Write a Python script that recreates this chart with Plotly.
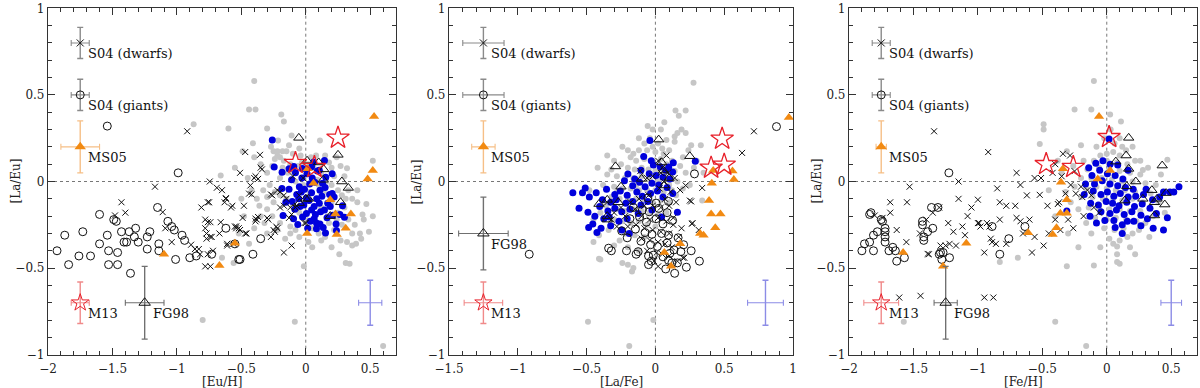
import plotly.graph_objects as go

# ---------------- data: [La/Eu] against [Eu/H] (left panel) ----------------
gray_eu = [(-0.40,0.58),(-0.44,0.415),(-0.39,0.415),(-0.19,0.387),(-0.17,0.346),(-0.60,0.306),(-0.30,0.306),
    (-0.87,0.33),(-0.41,0.221),(-0.215,0.237),(-0.11,0.265),(0.11,0.237),(-0.49,0.175),(0.32,0.077),(-0.66,0.035),
    (0.36,-0.10),(0.40,-0.12),(0.44,-0.19),(0.49,-0.29),(0.42,-0.30),(0.39,-0.36),(0.36,-0.37),(0.32,-0.35),
    (0.27,-0.34),(0.31,-0.47),(0.34,-0.475),(-0.015,-0.49),(-0.56,-0.47),(-0.65,-0.44),(-0.80,-0.80),(-0.085,-0.81),
    (0.60,-0.95),(-0.22,-0.28),(-0.20,-0.24),(-0.05,-0.32),(-0.12,-0.30),
    (-0.25,0.175),(-0.22,0.175),(-0.18,0.175),(-0.15,0.175),(-0.22,0.15),(-0.20,0.14),(-0.24,0.13),(-0.17,0.12),
    (-0.10,0.16),(-0.04,0.15),(0.04,0.14),(0.08,0.15),(-0.12,0.10),(-0.06,0.09),(0.12,0.05),(0.18,0.11),(0.22,0.03),
    (-0.30,0.05),(-0.35,0.10),(-0.28,-0.02),(-0.20,0.02),(-0.14,0.05),(-0.08,0.00),(0.00,0.04),(0.05,0.02),
    (0.10,-0.02),(0.16,0.00),(0.25,-0.05),(0.28,-0.08),(0.20,-0.12),(0.30,-0.15),(0.25,-0.18),(0.33,-0.22),
    (0.28,-0.25),(0.22,-0.28),(0.18,-0.24),(0.15,-0.32),(0.10,-0.30),(0.05,-0.27),(0.00,-0.22),(-0.05,-0.18),
    (-0.10,-0.14),(-0.15,-0.10),(-0.20,-0.08),(-0.25,-0.12),(-0.30,-0.16),(-0.35,-0.20),(-0.38,-0.10),(-0.42,-0.05),
    (-0.33,-0.05),(-0.18,-0.20),(-0.12,-0.26),(0.08,-0.10),(0.12,-0.15),(0.03,-0.06),(-0.02,-0.02),(0.14,-0.06),
    (0.20,-0.02),(0.06,0.08),(-0.03,0.11),(0.17,-0.20),(0.38,-0.25),(0.45,-0.22),(0.43,-0.33),(0.47,-0.13),
    (0.52,0.12),(0.24,0.14),(0.30,0.03),(-0.45,0.02),(-0.50,-0.10),(-0.48,-0.20),(-0.40,-0.27),(-0.30,-0.30),
    (0.05,-0.38),(0.20,-0.38),(0.26,-0.42),
    (-0.27,0.20),(-0.13,0.21),(-0.05,0.19),(0.02,0.10),(0.15,0.15),(0.20,0.08),(-0.26,0.09),(-0.18,0.08),
    (-0.24,-0.06),(-0.30,-0.09),(-0.36,-0.14),(-0.32,-0.24),(-0.26,-0.20),(0.33,-0.05),(0.36,-0.30),(0.40,-0.05),
    (0.31,-0.10),(0.24,-0.22),(0.12,-0.34),(0.02,-0.35),(-0.08,-0.28),(-0.16,-0.33),(0.09,0.01),(-0.11,0.06),
    (0.27,0.09),(-0.40,0.14),(-0.55,0.08),(-0.52,-0.30),(-0.44,-0.36),(0.52,-0.20)]
blue_eu = [(-0.26,0.24),(-0.245,0.083),(-0.184,0.054),(-0.13,0.073),(-0.093,0.087),(0.062,0.112),(0.145,0.121),
    (-0.176,-0.196),(-0.062,-0.248),(0.083,-0.24),(0.083,-0.273),(0.153,-0.298),(0.238,-0.283),(0.30,-0.206),
    (0.205,-0.07),(0.22,-0.09),
    (-0.08,0.05),(-0.03,0.02),(0.01,0.045),(0.05,0.02),(0.09,0.06),(0.13,-0.01),(-0.11,0.01),
    (-0.05,-0.03),(-0.01,-0.045),(0.03,-0.015),(0.07,-0.005),(0.11,-0.05),(0.15,-0.035),(0.185,-0.075),(-0.13,-0.045),
    (-0.07,-0.075),(-0.035,-0.06),(0.005,-0.095),(0.045,-0.065),(0.085,-0.10),(0.125,-0.085),(0.17,-0.125),
    (-0.105,-0.115),(-0.055,-0.10),(-0.015,-0.135),(0.025,-0.11),(0.065,-0.145),(0.105,-0.125),(0.145,-0.165),
    (0.19,-0.145),(-0.085,-0.16),(-0.045,-0.145),(0.005,-0.185),(0.045,-0.165),(0.075,-0.19),(0.115,-0.175),
    (0.165,-0.21),(0.21,-0.195),(-0.025,-0.205),(0.035,-0.23),(0.065,-0.215),(0.11,-0.245),(0.265,-0.19),(0.285,-0.14),
    (-0.155,-0.12),(-0.185,-0.04),(0.235,-0.245),(0.135,-0.265),(0.015,-0.27),(-0.095,-0.215),(0.045,0.085),
    (0.105,0.065),(-0.025,0.075),(0.155,0.025),(0.205,0.045)]
cross_eu = [(-0.92,0.29),(-1.17,-0.03),(-0.745,0.0),(-0.69,-0.036),(-0.51,0.05),(-0.47,0.17),(-0.355,0.154),
    (-0.35,0.08),(-0.34,0.07),(-0.62,-0.096),(-1.43,-0.12),(-1.40,-0.18),(-1.48,-0.196),(-1.11,-0.177),(-1.09,-0.27),
    (-1.04,-0.35),(-0.81,-0.15),(-0.76,-0.12),(-0.78,-0.22),(-0.78,-0.27),(-0.77,-0.30),(-0.77,-0.33),(-0.86,-0.39),
    (-0.83,-0.39),(-0.82,-0.42),(-0.78,-0.49),(-0.89,-0.365),(-0.76,-0.42),(-0.76,-0.235),(-0.74,-0.235),
    (-0.66,-0.235),(-0.74,-0.32),(-0.73,-0.32),(-0.61,-0.36),(-0.56,-0.36),(-0.54,-0.26),(-0.52,-0.27),(-0.51,-0.28),
    (-0.47,-0.30),(-0.39,-0.215),(-0.37,-0.205),(-0.25,-0.28),(-0.24,-0.29),(-0.17,-0.41),(-0.11,-0.37),(0.0,-0.24),
    (-0.40,0.02),(-0.37,0.015),(-0.39,0.03),(-0.43,-0.023),(-0.44,-0.07),(-0.42,-0.075),(-0.27,-0.075),(-0.26,-0.08),
    (-0.22,-0.05),(-0.20,-0.06),(-0.17,-0.08),(-0.15,-0.10),(-0.20,-0.15),(-0.17,-0.14),(-0.12,-0.15),(-0.11,-0.19),
    (-0.13,-0.21),(-0.62,-0.10),(-0.63,-0.12),(-0.57,-0.14),(-0.58,-0.15),(-0.75,-0.12),(-0.48,-0.14),(-0.49,-0.21),
    (-0.38,-0.22),(-0.39,-0.23),(-0.30,-0.21),(-0.29,-0.22),(-0.22,-0.27),(-0.23,-0.26),(-0.27,-0.32),(-0.01,-0.24),
    (-0.08,-0.15),(-0.07,-0.14),(-0.46,-0.30),(-0.55,-0.26),(-0.54,-0.27),(-0.61,-0.37),(-0.74,-0.49),(-0.72,-0.40),
    (-0.67,-0.30),(-0.65,-0.05),(-0.05,-0.08),(-0.10,0.03),(-0.02,0.02)]
circle_eu = [(-1.93,-0.40),(-1.87,-0.31),(-1.84,-0.48),(-1.76,-0.43),(-1.73,-0.29),(-1.67,-0.43),(-1.60,-0.36),
    (-1.60,-0.19),(-1.54,-0.31),(-1.49,-0.22),(-1.47,-0.23),(-1.46,-0.41),(-1.46,-0.48),(-1.43,-0.29),(-1.37,-0.29),
    (-1.41,-0.35),(-1.39,-0.35),(-1.36,-0.53),(-1.32,-0.27),(-1.33,-0.32),(-1.30,-0.35),(-1.23,-0.32),(-1.21,-0.29),
    (-1.23,-0.39),(-1.15,-0.15),(-1.14,-0.36),(-1.14,-0.40),(-1.07,-0.23),(-1.04,-0.26),(-1.02,-0.28),(-0.96,-0.31),
    (-0.94,-0.34),(-1.01,-0.45),(-0.90,-0.44),(-0.85,-0.43),(-0.55,-0.36),(-0.52,-0.45),(-0.41,-0.42),(-0.35,-0.33),
    (-1.54,0.32),(-0.99,0.05),(-0.62,-0.27),(-0.73,-0.42),(-0.51,-0.45),(-1.53,-0.48),(-1.53,-0.40)]
tri_eu = [(-0.054,0.252),(0.01,0.12),(0.14,0.07),(0.25,0.154),(0.135,0.01),(0.28,0.0),(0.33,-0.037),(0.27,-0.12),
    (0.19,-0.2),(0.02,-0.10),(-0.05,-0.125),(0.0,-0.10),(0.10,0.11)]
orange_eu = [(0.53,0.375),(0.52,0.063),(0.48,0.015),(0.015,0.073),(0.06,-0.01),(0.19,-0.106),(0.23,-0.187),
    (0.35,-0.187),(0.31,-0.27),(0.24,-0.306),(0.01,-0.30),(-0.55,-0.356),(-0.67,-0.485),(-1.10,-0.42)]
star_eu = [(-0.08,0.106),(0.067,0.083),(0.25,0.252)]

# ---------------- data: [La/Eu] against [La/Fe] (middle panel) ----------------
gray_lafe = [(0.277,0.57),(0.146,0.41),(0.22,0.41),(0.17,0.38),(0.065,0.342),(0.19,0.30),(-0.056,0.32),(-0.02,0.30),
    (0.14,0.26),(0.14,0.23),(0.26,0.21),(0.33,0.21),(-0.41,-0.31),(-0.41,-0.446),(-0.24,-0.47),(-0.20,-0.48),
    (0.34,-0.11),(-0.49,-0.81),(-0.015,-0.80),(-0.19,-0.95),(-0.40,-0.45),(-0.16,-0.50),(-0.17,-0.52),(-0.45,-0.35),
    (-0.04,0.25),(-0.08,0.22),(0.02,0.22),(0.08,0.24),(-0.12,0.18),(-0.06,0.18),(0.0,0.17),(0.05,0.19),(0.10,0.18),
    (-0.18,0.14),(-0.14,0.12),(-0.08,0.13),(-0.02,0.12),(0.04,0.13),(0.12,0.12),(0.20,0.14),(-0.25,0.10),(-0.20,0.08),
    (-0.15,0.07),(-0.10,0.08),(-0.05,0.07),(0.0,0.06),(0.06,0.07),(0.14,0.06),(0.22,0.05),(-0.35,0.04),(-0.28,0.03),
    (-0.22,0.02),(-0.16,0.02),(-0.10,0.03),(-0.04,0.01),(0.02,0.0),(0.08,0.02),(0.16,0.0),(-0.38,-0.02),(-0.30,-0.03),
    (-0.24,-0.04),(-0.18,-0.04),(-0.12,-0.05),(-0.06,-0.05),(0.0,-0.05),(0.06,-0.06),(0.12,-0.05),(0.20,-0.04),
    (-0.32,-0.09),(-0.26,-0.10),(-0.20,-0.10),(-0.14,-0.10),(-0.08,-0.11),(-0.02,-0.12),(0.04,-0.11),(0.10,-0.12),
    (-0.28,-0.16),(-0.22,-0.17),(-0.16,-0.16),(-0.10,-0.17),(-0.04,-0.18),(0.02,-0.19),(0.08,-0.18),(-0.30,-0.22),
    (-0.24,-0.23),(-0.18,-0.24),(-0.12,-0.23),(-0.06,-0.25),(0.0,-0.26),(-0.22,-0.30),(-0.15,-0.31),(-0.08,-0.32),
    (-0.30,-0.37),(-0.20,-0.38),(-0.12,-0.40),(-0.35,0.15),(-0.42,0.08),(0.28,0.08),(0.25,-0.02),(0.16,0.28),
    (0.04,0.30),(-0.24,0.20),(-0.48,-0.05),(-0.40,-0.18),(0.30,0.12),
    (-0.30,0.12),(-0.20,0.18),(-0.12,0.25),(-0.02,0.20),(0.08,0.10),(0.18,0.09),(-0.32,0.07),(-0.28,-0.06),
    (-0.14,-0.02),(0.10,-0.02),(0.15,-0.08),(-0.36,-0.14),(-0.34,-0.28),(-0.26,-0.34),(-0.45,-0.22),(0.24,0.18),
    (0.06,0.16),(-0.16,0.16),(0.22,0.28),(0.35,0.05)]
blue_lafe = [(-0.04,0.237),(0.29,0.117),(0.13,0.108),(0.097,0.083),(-0.20,0.044),(-0.15,0.015),(-0.53,-0.065),
    (-0.48,-0.09),(-0.51,-0.037),(-0.43,-0.065),(-0.60,-0.065),(-0.49,-0.177),(-0.44,-0.20),(-0.19,-0.30),
    (0.16,-0.177),(0.126,-0.07),
    (-0.03,0.12),(-0.015,0.095),(0.035,0.085),(0.075,0.065),(-0.105,0.065),(-0.045,0.045),(0.005,0.035),
    (0.055,0.025),(0.105,0.015),(-0.225,0.005),(-0.165,-0.025),(-0.115,-0.005),(-0.075,-0.03),(-0.025,-0.01),
    (0.025,-0.02),(0.085,-0.035),(-0.355,-0.045),(-0.295,-0.075),(-0.255,-0.055),(-0.205,-0.08),(-0.135,-0.06),
    (-0.095,-0.085),(-0.035,-0.07),(0.015,-0.055),(0.055,-0.09),(-0.385,-0.105),(-0.325,-0.12),(-0.285,-0.105),
    (-0.215,-0.125),(-0.165,-0.115),(-0.105,-0.135),(-0.055,-0.115),(-0.405,-0.145),(-0.345,-0.17),(-0.295,-0.155),
    (-0.245,-0.175),(-0.185,-0.16),(-0.125,-0.185),(-0.375,-0.215),(-0.335,-0.205),(-0.265,-0.23),(-0.205,-0.215),
    (-0.455,-0.245),(-0.395,-0.27),(-0.325,-0.255),(-0.245,-0.28),(-0.485,-0.265),(-0.425,-0.295),(-0.025,-0.165),
    (0.045,-0.205),(0.125,0.055),(-0.555,-0.155),(-0.085,0.145)]
cross_lafe = [(0.716,0.29),(0.63,0.165),(0.34,-0.037),(0.22,-0.023),(0.25,-0.11),(0.26,-0.115),(0.265,-0.244),
    (0.315,-0.28),(0.19,-0.27),(0.17,-0.32),(0.21,-0.44),(0.02,-0.49),(0.08,0.15),(0.27,-0.24),(0.20,-0.44),
    (0.02,0.12),(0.05,0.08),(0.09,0.05),(0.14,0.02),(0.06,0.0),(-0.02,0.03),(0.11,-0.06),(0.03,-0.04),(-0.05,-0.08),
    (-0.12,-0.10),(-0.18,-0.12),(-0.25,-0.15),(-0.30,-0.18),(-0.22,-0.20),(-0.15,-0.16),(-0.08,-0.14),(-0.02,-0.14),
    (0.04,-0.15),(0.10,-0.14),(0.15,-0.12),(-0.10,-0.20),(-0.04,-0.22),(0.02,-0.21),(0.08,-0.23),(0.13,-0.21),
    (-0.20,-0.26),(-0.14,-0.25),(-0.08,-0.27),(-0.02,-0.28),(0.04,-0.29),(0.10,-0.30),(-0.10,-0.33),(-0.04,-0.34),
    (0.02,-0.35),(0.07,-0.36),(0.12,-0.38),(-0.06,-0.40),(0.01,-0.41),(0.05,-0.42),(0.10,-0.43),(-0.01,-0.46),
    (0.16,-0.46),(-0.28,-0.26),(-0.32,-0.22),(-0.35,-0.12),(0.18,-0.05),(0.04,0.05),(-0.06,0.02),(0.07,-0.10),
    (0.13,-0.25),(-0.11,0.06)]
circle_lafe = [(0.88,0.317),(0.284,0.044),(-0.917,-0.42),(-0.34,-0.385),(-0.32,-0.40),(-0.21,-0.40),(-0.14,-0.42),
    (-0.05,-0.43),(-0.03,-0.46),(-0.05,-0.48),(0.14,-0.53),(0.26,-0.40),(0.32,-0.46),(0.12,-0.47),(0.16,-0.47),
    (-0.16,-0.15),(-0.095,-0.165),(-0.045,-0.175),(0.025,-0.155),(0.085,-0.18),(-0.185,-0.215),(-0.115,-0.205),
    (-0.065,-0.235),(0.005,-0.215),(0.055,-0.245),(0.125,-0.225),(-0.145,-0.275),(-0.075,-0.295),(-0.025,-0.305),
    (0.045,-0.3),(0.095,-0.31),(0.165,-0.325),(-0.105,-0.345),(-0.035,-0.365),(0.015,-0.375),(0.085,-0.355),
    (0.135,-0.395),(0.205,-0.365),(-0.125,-0.405),(-0.015,-0.425),(0.055,-0.435),(0.105,-0.415),(0.185,-0.405),
    (0.075,-0.505),(0.095,-0.455),(0.225,-0.495),(0.005,-0.125),(-0.055,-0.095),(0.095,-0.115),(-0.205,-0.325),
    (-0.245,-0.285)]
tri_lafe = [(0.024,0.242),(0.25,0.146),(-0.29,0.087),(-0.10,0.015),(0.046,0.11),(0.058,0.063),(0.065,-0.023),
    (-0.41,-0.13),(-0.35,-0.106),(-0.27,-0.12),(-0.35,-0.2),(-0.25,-0.03),(-0.35,-0.22),(0.10,0.02)]
orange_lafe = [(0.97,0.37),(0.56,0.06),(0.57,0.012),(0.41,-0.01),(0.42,0.063),(0.39,-0.11),(0.405,-0.187),
    (0.473,-0.187),(0.435,-0.267),(0.325,-0.30),(0.35,-0.31),(0.18,-0.36),(0.065,-0.41),(0.114,-0.49)]
star_lafe = [(0.485,0.246),(0.50,0.096),(0.405,0.079)]

# ---------------- data: [La/Eu] against [Fe/H] (right panel) ----------------
gray_fe = [(-0.10,0.58),(-0.25,0.415),(-0.12,0.415),(0.026,0.387),(0.11,0.346),(-0.49,0.33),(-0.49,0.30),
    (-0.52,0.217),(-0.31,0.175),(0.47,0.125),(0.28,0.067),(-0.10,-0.485),(0.08,-0.465),(0.10,-0.475),(-0.83,-0.465),
    (-0.69,-0.44),(-0.31,-0.49),(0.05,-0.36),(0.08,-0.375),(-1.575,-0.81),(-0.40,-0.81),(-0.16,-0.95),(-0.20,0.21),
    (0.03,0.30),(0.10,0.25),(-0.08,0.20),(-0.05,0.15),(0.0,0.16),(0.05,0.17),(0.10,0.15),(0.15,0.18),(-0.10,0.12),
    (0.0,0.12),(0.08,0.11),(0.16,0.10),(0.22,0.12),(-0.15,0.07),(-0.06,0.08),(0.02,0.07),(0.10,0.06),(0.18,0.05),
    (0.26,0.04),(-0.20,0.02),(-0.12,0.02),(-0.04,0.02),(0.04,0.01),(0.12,0.0),(0.20,0.0),(0.30,-0.01),(-0.25,-0.03),
    (-0.16,-0.04),(-0.08,-0.03),(0.0,-0.04),(0.07,-0.05),(0.14,-0.05),(0.22,-0.06),(0.34,-0.07),(-0.20,-0.09),
    (-0.11,-0.09),(-0.03,-0.10),(0.05,-0.10),(0.12,-0.11),(0.20,-0.10),(0.28,-0.12),(-0.14,-0.15),(-0.06,-0.15),
    (0.02,-0.16),(0.10,-0.16),(0.18,-0.17),(0.26,-0.17),(-0.09,-0.21),(0.0,-0.22),(0.07,-0.21),(0.15,-0.22),
    (0.23,-0.23),(-0.02,-0.27),(0.06,-0.28),(0.13,-0.27),(0.20,-0.30),(0.02,-0.33),(0.10,-0.34),(0.16,-0.32),
    (-0.30,-0.30),(-0.28,-0.12),(-0.35,0.05),(0.38,-0.02),(0.42,0.04),(0.32,0.08),(0.25,-0.28),(-0.12,-0.30),
    (-0.40,-0.20),(0.36,-0.20),(-0.22,-0.38),
    (-0.18,0.12),(-0.26,0.09),(0.06,0.22),(0.20,0.20),(0.26,0.12),(-0.32,-0.06),(-0.22,-0.16),(-0.16,-0.24),
    (0.30,-0.24),(0.40,-0.12),(0.33,-0.32),(0.18,-0.38),(-0.05,-0.38),(0.12,0.20),(-0.02,0.25),(0.45,-0.18),
    (-0.38,0.12),(0.22,-0.42),(-0.45,-0.05),(0.08,-0.42)]
blue_fe = [(0.018,0.246),(-0.03,0.12),(0.026,0.10),(0.56,-0.03),(0.52,-0.06),(0.44,-0.06),(0.41,-0.09),(0.47,-0.21),
    (0.44,-0.28),(0.36,-0.27),(0.21,-0.23),(0.16,-0.23),(0.12,-0.25),(0.12,-0.30),(-0.08,-0.24),(-0.13,-0.20),
    (-0.31,-0.17),(0.49,-0.06),
    (-0.14,0.08),(-0.115,0.035),(-0.055,0.065),(0.005,0.045),(0.065,0.035),(0.125,0.015),(-0.165,-0.015),
    (-0.095,-0.015),(-0.035,0.005),(0.025,-0.015),(0.085,-0.025),(0.145,-0.035),(0.205,-0.045),(-0.175,-0.075),
    (-0.105,-0.055),(-0.045,-0.075),(0.005,-0.06),(0.055,-0.085),(0.105,-0.07),(0.165,-0.09),(0.225,-0.085),
    (0.285,-0.075),(-0.125,-0.125),(-0.065,-0.135),(-0.005,-0.115),(0.045,-0.125),(0.095,-0.14),(0.155,-0.12),
    (0.215,-0.145),(0.275,-0.13),(0.335,-0.155),(-0.045,-0.175),(0.025,-0.185),(0.075,-0.165),(0.135,-0.19),
    (0.195,-0.175),(0.265,-0.195),(0.315,-0.215),(0.385,-0.185),(-0.015,-0.225),(0.055,-0.225),(0.265,-0.255),
    (0.355,-0.105),(0.305,-0.045),(0.085,0.095),(-0.085,0.105),(0.165,0.065),(0.065,-0.265)]
cross_fe = [(-1.34,0.29),(-0.92,0.17),(-1.53,-0.03),(-1.15,0.0),(-0.70,0.05),(-0.67,-0.02),(-0.56,0.02),
    (-0.51,0.02),(-0.85,-0.04),(-0.42,0.05),(-0.285,0.15),(-1.68,-0.12),(-1.68,-0.18),(-1.80,-0.196),(-1.63,-0.28),
    (-1.555,-0.35),(-1.61,-0.67),(-1.445,-0.66),(-1.39,-0.418),(-1.38,-0.42),(-1.35,-0.18),(-1.30,-0.15),
    (-1.23,-0.24),(-1.29,-0.37),(-1.25,-0.37),(-1.22,-0.36),(-1.17,-0.37),(-1.19,-0.29),(-1.12,-0.26),(-1.10,-0.31),
    (-1.05,-0.15),(-1.0,-0.105),(-1.0,-0.24),(-0.99,-0.24),(-0.98,-0.26),(-0.95,-0.41),(-0.95,-0.67),(-0.88,-0.67),
    (-0.93,-0.24),(-0.91,-0.26),(-0.90,-0.33),(-0.89,-0.35),(-0.86,-0.36),(-0.83,-0.12),(-0.78,-0.14),(-0.78,-0.36),
    (-0.83,-0.22),(-0.71,-0.14),(-0.70,-0.21),(-0.67,-0.23),(-0.58,-0.41),(-0.56,-0.32),(-0.52,-0.077),(-0.49,-0.37),
    (-0.45,-0.30),(-0.46,-0.14),(-0.38,-0.13),(-0.37,-0.12),(-0.26,-0.27),(-0.32,-0.07),(-0.24,-0.07),(-0.19,-0.09),
    (-0.15,-0.05),(-0.28,-0.02),(-0.35,0.03),(-0.40,0.10),(-0.34,0.16),(-0.25,0.06),(-0.20,-0.03),(-0.12,-0.08),
    (-0.10,-0.15),(-0.06,-0.18),(-0.18,-0.20),(-0.30,-0.22),(-0.36,-0.28),(-0.40,-0.22),(-0.60,-0.22),(-0.62,-0.08),
    (-0.65,-0.30),(-1.08,-0.20),(-1.15,-0.10),(-1.40,-0.22),(-1.45,-0.30),(-1.74,-0.21),(-1.55,-0.12)]
circle_fe = [(-1.225,0.05),(-1.83,-0.18),(-1.84,-0.19),(-1.81,-0.31),(-1.84,-0.35),(-1.81,-0.40),(-1.78,-0.29),
    (-1.75,-0.22),(-1.74,-0.23),(-1.72,-0.27),(-1.72,-0.29),(-1.72,-0.32),(-1.72,-0.35),(-1.69,-0.40),(-1.66,-0.38),
    (-1.64,-0.40),(-1.63,-0.46),(-1.57,-0.44),(-1.43,-0.23),(-1.43,-0.25),(-1.42,-0.32),(-1.42,-0.34),(-1.39,-0.29),
    (-1.36,-0.15),(-1.35,-0.27),(-1.30,-0.42),(-1.28,-0.45),(-1.29,-0.41),(-1.27,-0.41),(-0.83,-0.42),(-0.635,-0.26),
    (-0.76,-0.33),(-1.31,-0.15),(-1.88,-0.36),(-1.90,-0.40),(-1.22,-0.44),(-0.89,-0.26)]
tri_fe = [(0.17,0.252),(0.15,0.15),(0.07,0.115),(0.17,0.073),(0.43,0.092),(0.225,0.0),(0.155,-0.027),(0.46,-0.067),
    (0.39,-0.10),(0.45,-0.133),(0.37,-0.12),(0.37,-0.196),(0.14,-0.11),(0.35,-0.05),(0.28,-0.10)]
orange_fe = [(-0.06,0.375),(-0.34,0.073),(-0.355,-0.004),(0.026,0.063),(-0.07,0.015),(-0.31,-0.106),(-0.36,-0.183),
    (-0.31,-0.183),(-0.39,-0.267),(-0.42,-0.306),(-0.61,-0.296),(-1.58,-0.41),(-1.09,-0.356),(-1.27,-0.49)]
star_fe = [(-0.47,0.10),(-0.26,0.083),(0.018,0.256)]

# ---------------- typical error bars (reference samples) ----------------
ref_labels = ["S04 (dwarfs)", "S04 (giants)", "MS05", "FG98", "M13", ""]
ref_y = [0.8, 0.5, 0.2, -0.7, -0.7, -0.7]
ref_ey = [0.09, 0.09, 0.15, 0.21, 0.12, 0.13]
ref_eu_x = [-1.75, -1.75, -1.75, -1.25, -1.75, 0.5]
ref_eu_ex = [0.07, 0.07, 0.15, 0.15, 0.07, 0.09]
ref_lafe_x = [-1.25, -1.25, -1.25, -1.25, -1.25, 0.8]
ref_lafe_y = [0.8, 0.5, 0.2, -0.3, -0.7, -0.7]
ref_lafe_ex = [0.15, 0.15, 0.085, 0.18, 0.14, 0.13]
ref_fe_x = [-1.75, -1.75, -1.75, -1.25, -1.75, 0.5]
ref_fe_ex = [0.07, 0.07, 0.04, 0.09, 0.135, 0.08]

x_titles = ["[Eu/H]", "[La/Fe]", "[Fe/H]"]
y_title = "[La/Eu]"

# ---------------- styling ----------------
FONT = "DejaVu Serif"
GRAY = "#c6c6c6"
BLUE = "#0000dc"
ORANGE = "#f28a12"
RED = "#e8202a"

group_styles = [
    dict(symbol="circle", size=6, color=GRAY, line=dict(width=0)),
    dict(symbol="circle", size=7, color=BLUE, line=dict(width=0)),
    dict(symbol="x-thin", size=6, color="#111", line=dict(width=1, color="#111")),
    dict(symbol="circle-open", size=8, color="#111", line=dict(width=1, color="#111")),
    dict(symbol="triangle-up-open", size=9, color="#111", line=dict(width=1, color="#111")),
    dict(symbol="triangle-up", size=9, color=ORANGE, line=dict(width=0)),
    dict(symbol="star-open", size=17, color=RED, line=dict(width=1.3, color=RED)),
]
ref_styles = {
    "S04 (dwarfs)": (dict(symbol="x-thin", size=7, color="#111", line=dict(width=1, color="#111")), "#8a8a8a"),
    "S04 (giants)": (dict(symbol="circle-open", size=8, color="#111", line=dict(width=1, color="#111")), "#8a8a8a"),
    "MS05": (dict(symbol="triangle-up", size=10, color=ORANGE, line=dict(width=0)), "#f6bf86"),
    "FG98": (dict(symbol="triangle-up-open", size=10, color="#111", line=dict(width=1, color="#111")), "#707070"),
    "M13": (dict(symbol="star-open", size=13, color=RED, line=dict(width=1, color=RED)), "#f08a8a"),
    "": (dict(symbol="circle", size=1, color="rgba(0,0,0,0)"), "#8c8ce6"),
}

W, H = 1200, 388
panels = [
    dict(groups=[gray_eu, blue_eu, cross_eu, circle_eu, tri_eu, orange_eu, star_eu],
         rx=ref_eu_x, ry=ref_y, rex=ref_eu_ex, xr=[-2, 0.7], dom=[48 / W, 396 / W]),
    dict(groups=[gray_lafe, blue_lafe, cross_lafe, circle_lafe, tri_lafe, orange_lafe, star_lafe],
         rx=ref_lafe_x, ry=ref_lafe_y, rex=ref_lafe_ex, xr=[-1.5, 1.0], dom=[449 / W, 793 / W]),
    dict(groups=[gray_fe, blue_fe, cross_fe, circle_fe, tri_fe, orange_fe, star_fe],
         rx=ref_fe_x, ry=ref_y, rex=ref_fe_ex, xr=[-2, 0.7], dom=[849 / W, 1197 / W]),
]

YDOM = [1 - 354.7 / H, 1 - 8.3 / H]

fig = go.Figure()
layout = {}
annotations = []
shapes = []

for i, p in enumerate(panels):
    n = "" if i == 0 else str(i + 1)
    xa, ya = "x" + n, "y" + n
    for pts, st in zip(p["groups"], group_styles):
        xs, ys = zip(*pts)
        fig.add_trace(go.Scatter(x=xs, y=ys, mode="markers", marker=st, xaxis=xa, yaxis=ya,
                                 hoverinfo="skip", showlegend=False))
    for lab, x, y, ex, ey in zip(ref_labels, p["rx"], p["ry"], p["rex"], ref_ey):
        mk, ecol = ref_styles[lab]
        fig.add_trace(go.Scatter(
            x=[x], y=[y], mode="markers", marker=mk, xaxis=xa, yaxis=ya, showlegend=False, hoverinfo="skip",
            error_x=dict(type="constant", value=ex, color=ecol, thickness=1.1, width=3),
            error_y=dict(type="constant", value=ey, color=ecol, thickness=1.4, width=3)))
        if lab:
            annotations.append(dict(x=x, y=y, xref=xa, yref=ya, text=lab, showarrow=False,
                                    xanchor="left", yanchor="middle", xshift=6, yshift=-11,
                                    font=dict(family=FONT, size=13, color="#111")))
    common = dict(ticks="inside", ticklen=7, tickwidth=1, tickcolor="#333", mirror="allticks",
                  showline=True, linecolor="#333", linewidth=1.2, showgrid=False, zeroline=False,
                  tick0=0, dtick=0.5, automargin=False,
                  minor=dict(dtick=0.1, ticks="inside", ticklen=4, tickcolor="#333", showgrid=False),
                  tickfont=dict(family=FONT, size=12, color="#222"))
    layout["xaxis" + n] = dict(common, range=p["xr"], domain=p["dom"], anchor=ya, ticklabelstandoff=3)
    layout["yaxis" + n] = dict(common, range=[-1, 1], domain=YDOM, anchor=xa)
    # dotted zero lines
    shapes.append(dict(type="line", xref=xa, yref=ya + " domain", x0=0, x1=0, y0=0, y1=1,
                       line=dict(color="#777", width=1, dash="dot"), layer="below"))
    shapes.append(dict(type="line", xref=xa + " domain", yref=ya, x0=0, x1=1, y0=0, y1=0,
                       line=dict(color="#777", width=1, dash="dot"), layer="below"))
    # axis titles
    annotations.append(dict(x=(p["dom"][0] + p["dom"][1]) / 2, y=6 / H, xref="paper", yref="paper",
                            text=x_titles[i], showarrow=False, xanchor="center", yanchor="middle",
                            font=dict(family=FONT, size=12, color="#222")))
    annotations.append(dict(x=p["dom"][0] - 33 / W, y=(YDOM[0] + YDOM[1]) / 2, xref="paper", yref="paper",
                            text=y_title, showarrow=False, textangle=-90, xanchor="center", yanchor="middle",
                            font=dict(family=FONT, size=12, color="#222")))

fig.update_layout(
    width=W, height=H,
    margin=dict(l=0, r=0, t=0, b=0),
    paper_bgcolor="white", plot_bgcolor="white",
    annotations=annotations, shapes=shapes,
    showlegend=False,
    **layout,
)

# the page body has a default 8px margin; remove it so the figure fills the window
fig.write_html("out.html", config={"displayModeBar": False},
               post_script="document.body.style.margin='0';document.body.style.overflow='hidden';")
